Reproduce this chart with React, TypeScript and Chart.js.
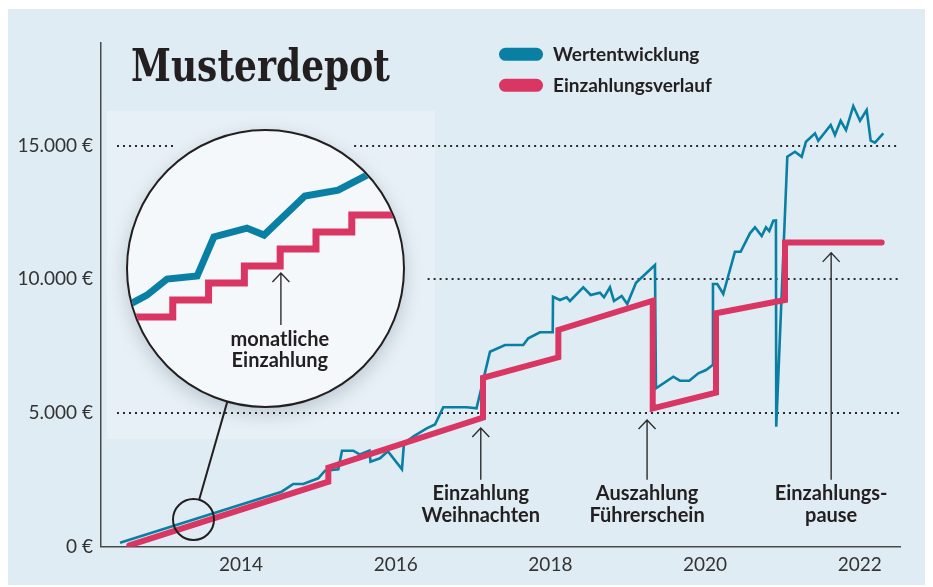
import React, { useEffect, useRef } from "react";
import { Chart, registerables } from "chart.js";

Chart.register(...registerables);

// ---------- data ----------
const SERIES_LABELS = ["Wertentwicklung", "Einzahlungsverlauf"];

const BLUE_YEARS = [
  2012.436, 2014.526, 2014.676, 2014.805, 2014.999, 2015.086, 2015.258, 2015.306, 2015.452, 2015.538,
  2015.661, 2015.674, 2015.797, 2015.898, 2016.081, 2016.107, 2016.236, 2016.401, 2016.508, 2016.615,
  2016.918, 2017.045, 2017.132, 2017.219, 2017.413, 2017.649, 2017.714, 2017.865, 2018.03, 2018.034,
  2018.124, 2018.211, 2018.253, 2018.425, 2018.521, 2018.641, 2018.693, 2018.77, 2018.822, 2018.922,
  2018.994, 2019.107, 2019.352, 2019.365, 2019.589, 2019.675, 2019.796, 2019.912, 2020.012, 2020.098,
  2020.102, 2020.158, 2020.235, 2020.386, 2020.46, 2020.58, 2020.645, 2020.732, 2020.787, 2020.83,
  2020.882, 2020.916, 2020.92, 2021.063, 2021.162, 2021.249, 2021.304, 2021.421, 2021.463, 2021.624,
  2021.679, 2021.753, 2021.822, 2021.916, 2022.003, 2022.089, 2022.141, 2022.196, 2022.304,
];
const BLUE_VALUES = [
  150, 2057, 2345, 2345, 2558, 2842, 2895, 3590, 3590, 3448,
  3590, 3179, 3306, 3572, 2895, 3867, 4140, 4428, 4570, 5214,
  5214, 5176, 6235, 7293, 7544, 7544, 7794, 8019, 8019, 9350,
  9227, 9328, 9189, 9702, 9414, 9500, 9328, 9702, 9189, 9376,
  9077, 9874, 10536, 5924, 6358, 6208, 6208, 6485, 6609, 6796,
  9825, 9825, 9451, 11033, 11033, 11721, 11946, 11620, 11946, 11807,
  12192, 12200, 4488, 14586, 14773, 14586, 15147, 15461, 15184, 15772,
  15398, 15932, 15585, 16482, 15932, 16333, 15184, 15110, 15461,
];

const RED_YEARS = [
  2012.556, 2015.129, 2015.129, 2017.129, 2017.129, 2018.103, 2018.103,
  2019.323, 2019.323, 2020.141, 2020.141, 2021.033, 2021.033, 2022.283,
];
const RED_VALUES = [52, 2431, 2955, 4832, 6317, 7084, 8105, 9200, 5169, 5760, 8729, 9227, 11377, 11377];

const X_TICKS = [2014, 2016, 2018, 2020, 2022];
const Y_TICKS = [0, 5000, 10000, 15000];

const ANNOT_YEARS = [2017.1, 2019.25, 2021.63];
const ANNOT_TIPS = [4440, 4740, 10990];
const ANNOT_LINES = [
  ["Einzahlung", "Weihnachten"],
  ["Auszahlung", "Führerschein"],
  ["Einzahlungs-", "pause"],
];

// magnified detail (months / euro)
const ZOOM_BLUE_MONTHS = [-0.22, 0.11, 0.53, 1.09, 1.93, 2.4, 3.32, 3.8, 4.94, 5.87, 6.62, 8.16];
const ZOOM_BLUE_VALUES = [940, 974, 1016, 1101, 1117, 1324, 1371, 1334, 1541, 1572, 1646, 1797];
const ZOOM_RED_MONTHS = [-0.5, 1.25, 2.25, 3.25, 4.25, 5.25, 6.25, 8.5];
const ZOOM_RED_VALUES = [900, 990, 1080, 1170, 1260, 1350, 1440, 1440];
const ZOOM_ARROW = { month: 4.27, tip: 1133, base: 858 };
const ZOOM_LABEL = ["monatliche", "Einzahlung"];
const ZOOM_SPOT = { year: 2013.386, value: 1017 };
const TITLE = "Musterdepot";

// ---------- styles ----------
const BG = "#dfecf3";
const PANEL = "#e7f0f6";
const LENS_BG = "#f4f8fb";
const BLUE = "#0a7fa4";
const RED = "#d93663";
const INK = "#231f20";
const AXIS = "#4a4a4a";
const SANS = "Lato, 'Open Sans', sans-serif";

// canvas coords (container at page 8,9)
const LENS = { cx: 257.5, cy: 259.5, r: 138.5 };
const PANEL_RECT = { x: 99, y: 102, w: 328, h: 328 };

const fmtEuro = (v: number) => String(v).replace(/\B(?=(\d{3})+(?!\d))/g, ".") + " €";

function drawArrow(ctx: CanvasRenderingContext2D, x: number, yTip: number, yBase: number) {
  ctx.beginPath();
  ctx.moveTo(x, yBase);
  ctx.lineTo(x, yTip);
  ctx.moveTo(x - 8.5, yTip + 9);
  ctx.lineTo(x, yTip);
  ctx.lineTo(x + 8.5, yTip + 9);
  ctx.stroke();
}

const decorPlugin = {
  id: "decor",
  beforeDraw(chart: any) {
    const ctx = chart.ctx as CanvasRenderingContext2D;
    ctx.save();
    ctx.fillStyle = PANEL;
    ctx.fillRect(PANEL_RECT.x, PANEL_RECT.y, PANEL_RECT.w, PANEL_RECT.h);
    ctx.restore();
  },
  beforeDatasetsDraw(chart: any) {
    const ctx = chart.ctx as CanvasRenderingContext2D;
    const { chartArea } = chart;
    const y = chart.scales.y;
    ctx.save();
    ctx.strokeStyle = "#2a2a2a";
    ctx.lineWidth = 2;
    ctx.setLineDash([2, 4]);
    for (const v of Y_TICKS) {
      if (v === 0) continue;
      const py = Math.round(y.getPixelForValue(v));
      const x0 = chartArea.left + 16;
      const x1 = chartArea.right;
      let segs: number[][] = [[x0, x1]];
      const dy = py - LENS.cy;
      if (Math.abs(dy) < LENS.r) {
        const dx = Math.sqrt(LENS.r * LENS.r - dy * dy) + 24;
        segs = [
          [x0, Math.min(LENS.cx - dx, x1)],
          [Math.max(LENS.cx + dx, x0), x1],
        ].filter((s) => s[1] - s[0] > 2);
      }
      for (const s of segs) {
        ctx.beginPath();
        ctx.moveTo(s[0], py);
        ctx.lineTo(s[1], py);
        ctx.stroke();
      }
    }
    ctx.restore();
  },
  afterDatasetsDraw(chart: any) {
    const ctx = chart.ctx as CanvasRenderingContext2D;
    const { chartArea } = chart;
    const xs = chart.scales.x;
    const ys = chart.scales.y;

    // small spot circle + connector to lens
    const sx = xs.getPixelForValue(ZOOM_SPOT.year);
    const sy = ys.getPixelForValue(ZOOM_SPOT.value);
    const sr = 20.5;
    ctx.save();
    ctx.strokeStyle = INK;
    ctx.lineWidth = 2;
    ctx.beginPath();
    ctx.arc(sx, sy, sr, 0, Math.PI * 2);
    ctx.stroke();
    const vx = LENS.cx - sx;
    const vy = LENS.cy - sy;
    const len = Math.hypot(vx, vy);
    const ux = vx / len;
    const uy = vy / len;
    ctx.beginPath();
    ctx.moveTo(sx + ux * sr, sy + uy * sr);
    ctx.lineTo(LENS.cx - ux * LENS.r, LENS.cy - uy * LENS.r);
    ctx.stroke();
    ctx.restore();

    // annotations
    ctx.save();
    ctx.strokeStyle = "#2e2e2e";
    ctx.lineWidth = 1.4;
    ctx.fillStyle = INK;
    ctx.font = `bold 20px ${SANS}`;
    ctx.textAlign = "center";
    ctx.textBaseline = "middle";
    const base = chartArea.bottom - 67;
    ANNOT_YEARS.forEach((yr, i) => {
      const px = xs.getPixelForValue(yr);
      drawArrow(ctx, px, ys.getPixelForValue(ANNOT_TIPS[i]), base);
      ctx.fillText(ANNOT_LINES[i][0], px, chartArea.bottom - 53);
      ctx.fillText(ANNOT_LINES[i][1], px, chartArea.bottom - 31);
    });
    ctx.restore();

    // title
    ctx.save();
    ctx.fillStyle = INK;
    ctx.font = "bold 45px 'DejaVu Serif', serif";
    ctx.textBaseline = "alphabetic";
    const w = ctx.measureText(TITLE).width;
    const target = 259;
    ctx.translate(123, 72);
    ctx.scale(target / w, 1);
    ctx.fillText(TITLE, 0, 0);
    ctx.restore();

    // legend
    ctx.save();
    ctx.font = `bold 19px ${SANS}`;
    ctx.textBaseline = "middle";
    ctx.textAlign = "left";
    chart.data.datasets.forEach((ds: any, i: number) => {
      const cy = 45.3 + i * 31;
      ctx.strokeStyle = ds.borderColor;
      ctx.lineWidth = 13;
      ctx.lineCap = "round";
      ctx.beginPath();
      ctx.moveTo(497.5, cy);
      ctx.lineTo(528.5, cy);
      ctx.stroke();
      ctx.fillStyle = INK;
      ctx.fillText(ds.label, 545, cy + 1);
    });
    ctx.restore();
  },
};

const zoomPlugin = {
  id: "zoomDecor",
  afterDatasetsDraw(chart: any) {
    const ctx = chart.ctx as CanvasRenderingContext2D;
    const xs = chart.scales.x;
    const ys = chart.scales.y;
    const px = xs.getPixelForValue(ZOOM_ARROW.month);
    const base = ys.getPixelForValue(ZOOM_ARROW.base);
    ctx.save();
    ctx.strokeStyle = "#2e2e2e";
    ctx.lineWidth = 1.4;
    drawArrow(ctx, px, ys.getPixelForValue(ZOOM_ARROW.tip), base);
    ctx.fillStyle = INK;
    ctx.font = `bold 20px ${SANS}`;
    ctx.textAlign = "center";
    ctx.textBaseline = "middle";
    ctx.fillText(ZOOM_LABEL[0], px - 1, base + 15);
    ctx.fillText(ZOOM_LABEL[1], px - 1, base + 36);
    ctx.restore();
  },
};

export default function App() {
  const mainRef = useRef<HTMLCanvasElement>(null);
  const zoomRef = useRef<HTMLCanvasElement>(null);

  useEffect(() => {
    const main = new Chart(mainRef.current as HTMLCanvasElement, {
      type: "line",
      data: {
        datasets: [
          {
            label: SERIES_LABELS[0],
            data: BLUE_YEARS.map((x, i) => ({ x, y: BLUE_VALUES[i] })),
            borderColor: BLUE,
            borderWidth: 2.6,
            pointRadius: 0,
            tension: 0,
            order: 1,
            borderJoinStyle: "miter",
          },
          {
            label: SERIES_LABELS[1],
            data: RED_YEARS.map((x, i) => ({ x, y: RED_VALUES[i] })),
            borderColor: RED,
            borderWidth: 6,
            pointRadius: 0,
            tension: 0,
            order: 0,
            borderCapStyle: "round",
            borderJoinStyle: "miter",
          },
        ],
      },
      options: {
        animation: false,
        responsive: false,
        maintainAspectRatio: false,
        layout: { padding: { left: 0, right: 28, top: 34, bottom: 0 } },
        plugins: { legend: { display: false }, tooltip: { enabled: false }, title: { display: false } },
        scales: {
          x: {
            type: "linear",
            min: 2012.19,
            max: 2022.52,
            grid: { display: false, drawTicks: false },
            border: { display: true, color: AXIS, width: 1.5 },
            afterBuildTicks: (s: any) => {
              s.ticks = X_TICKS.map((v) => ({ value: v }));
            },
            ticks: {
              callback: (v: any) => String(v),
              font: { family: SANS, size: 19 },
              color: "#333",
              padding: 7,
              maxRotation: 0,
              autoSkip: false,
            },
            afterFit: (s: any) => {
              s.height = 39.3;
            },
          },
          y: {
            type: "linear",
            min: 0,
            max: 18840,
            grid: { display: false, drawTicks: false },
            border: { display: true, color: AXIS, width: 1.5 },
            afterBuildTicks: (s: any) => {
              s.ticks = Y_TICKS.map((v) => ({ value: v }));
            },
            ticks: {
              callback: (v: any) => fmtEuro(Number(v)),
              font: { family: SANS, size: 19 },
              color: "#333",
              padding: 8,
              autoSkip: false,
            },
            afterFit: (s: any) => {
              s.width = 93;
            },
          },
        },
      },
      plugins: [decorPlugin],
    } as any);

    const zoom = new Chart(zoomRef.current as HTMLCanvasElement, {
      type: "line",
      data: {
        datasets: [
          {
            label: SERIES_LABELS[0],
            data: ZOOM_BLUE_MONTHS.map((x, i) => ({ x, y: ZOOM_BLUE_VALUES[i] })),
            borderColor: BLUE,
            borderWidth: 7,
            pointRadius: 0,
            tension: 0,
            borderJoinStyle: "miter",
          },
          {
            label: SERIES_LABELS[1],
            data: ZOOM_RED_MONTHS.map((x, i) => ({ x, y: ZOOM_RED_VALUES[i] })),
            borderColor: RED,
            borderWidth: 7,
            pointRadius: 0,
            stepped: "before",
            borderJoinStyle: "miter",
          },
        ],
      },
      options: {
        animation: false,
        responsive: false,
        maintainAspectRatio: false,
        layout: { padding: 0 },
        plugins: { legend: { display: false }, tooltip: { enabled: false } },
        scales: {
          x: { type: "linear", display: false, min: 0, max: 7.68 },
          y: { type: "linear", display: false, min: 429, max: 1885 },
        },
      },
      plugins: [zoomPlugin],
    } as any);

    return () => {
      main.destroy();
      zoom.destroy();
    };
  }, []);

  return (
    <div style={{ position: "relative", top: 1, width: 920, height: 577, background: BG, overflow: "hidden" }}>
      <canvas
        ref={mainRef}
        width={920}
        height={577}
        style={{ display: "block", position: "absolute", left: 0, top: 0 }}
      />
      <div
        style={{
          position: "absolute",
          left: 118,
          top: 120,
          width: 279,
          height: 279,
          boxSizing: "border-box",
          borderRadius: "50%",
          border: `2px solid ${INK}`,
          background: LENS_BG,
          overflow: "hidden",
          boxShadow: "0 6px 18px rgba(40,60,80,0.22)",
        }}
      >
        <canvas ref={zoomRef} width={275} height={275} style={{ display: "block" }} />
      </div>
    </div>
  );
}
